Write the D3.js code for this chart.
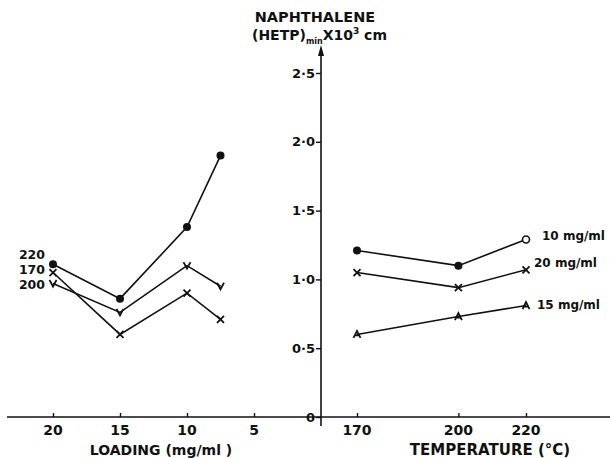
<!DOCTYPE html>
<html>
<head>
<meta charset="utf-8">
<script src="https://cdn.jsdelivr.net/npm/d3@7"></script>
<style>
  body { margin: 0; background: #fff; }
  text { font-family: "DejaVu Sans", sans-serif; font-weight: bold; fill: #111; }
</style>
</head>
<body>
<div id="chart"></div>
<script>
// left panel: HETP vs loading, one line per column temperature
const loading = [20, 15, 10, 7.5];
const hetp220 = [1.11, 0.86, 1.38, 1.90];
const hetp170 = [1.05, 0.60, 0.90, 0.71];
const hetp200 = [0.97, 0.76, 1.10, 0.95];
const loadingTicks = [20, 15, 10, 5];

// right panel: HETP vs temperature, one line per loading
const temps = [170, 200, 220];
const hetp10 = [1.21, 1.10, 1.29];
const hetp20 = [1.05, 0.94, 1.07];
const hetp15 = [0.60, 0.73, 0.81];
const tempTicks = [170, 200, 220];

const yTicks = [0, 0.5, 1.0, 1.5, 2.0, 2.5];

const width = 610, height = 458;
const svg = d3.select('#chart').append('svg')
    .attr('width', width)
    .attr('height', height);

const y = d3.scaleLinear().domain([0, 2.5]).range([417, 73]);
const xLoad = d3.scaleLinear().domain([20, 0]).range([53, 321]);
const xTemp = d3.scaleLinear().domain([170, 220]).range([357, 526]);
const axisX = xLoad(0);

// horizontal axes
svg.append('line')
    .attr('x1', 7).attr('x2', width)
    .attr('y1', y(0)).attr('y2', y(0))
    .attr('stroke', '#111').attr('stroke-width', 1.6);

const loadAxis = d3.axisTop(xLoad).tickValues(loadingTicks).tickSize(4).tickFormat('');
svg.append('g').attr('transform', `translate(0,${y(0)})`).call(loadAxis)
    .call(g => g.select('.domain').remove())
    .selectAll('line').attr('stroke', '#111').attr('stroke-width', 1.4);

const tempAxis = d3.axisTop(xTemp).tickValues(tempTicks).tickSize(4).tickFormat('');
svg.append('g').attr('transform', `translate(0,${y(0)})`).call(tempAxis)
    .call(g => g.select('.domain').remove())
    .selectAll('line').attr('stroke', '#111').attr('stroke-width', 1.4);

// tick labels below axis
svg.selectAll('.lt').data(loadingTicks).join('text')
    .attr('x', d => xLoad(d)).attr('y', 435)
    .attr('text-anchor', 'middle').style('font-size', '14px')
    .text(d => d);
svg.selectAll('.tt').data(tempTicks).join('text')
    .attr('x', d => xTemp(d)).attr('y', 435)
    .attr('text-anchor', 'middle').style('font-size', '14px')
    .text(d => d);

// vertical axis with arrow
svg.append('line')
    .attr('x1', axisX).attr('x2', axisX)
    .attr('y1', 426).attr('y2', 50)
    .attr('stroke', '#111').attr('stroke-width', 1.6);
svg.append('path')
    .attr('d', `M${axisX - 3},${56} L${axisX},${45} L${axisX + 3},${56} Z`)
    .attr('fill', '#111');

const yAxis = d3.axisLeft(y).tickValues(yTicks).tickSize(5)
    .tickFormat(d => d === 0 ? '0' : d3.format('.1f')(d).replace('.', '·'));
svg.append('g').attr('transform', `translate(${axisX},0)`).call(yAxis)
    .call(g => g.select('.domain').remove())
    .call(g => g.selectAll('line').attr('stroke', '#111').attr('stroke-width', 1.4))
    .call(g => g.selectAll('text')
        .style('font-size', '13px')
        .style('font-family', '"DejaVu Sans", sans-serif')
        .style('font-weight', 'bold')
        .attr('fill', '#111')
        .attr('x', -6));

// titles
svg.append('text').attr('x', 315).attr('y', 22)
    .attr('text-anchor', 'middle').style('font-size', '14.5px')
    .text('NAPHTHALENE');
const sub = svg.append('text').attr('x', 252).attr('y', 40).style('font-size', '14px');
sub.append('tspan').text('(HETP)');
sub.append('tspan').attr('dy', 4).style('font-size', '8px').text('min');
sub.append('tspan').attr('dy', -4).text('X10');
sub.append('tspan').attr('dy', -6).style('font-size', '9px').text('3');
sub.append('tspan').attr('dy', 6).text(' cm');

svg.append('text').attr('x', 161).attr('y', 455)
    .attr('text-anchor', 'middle').style('font-size', '14px')
    .text('LOADING (mg/ml )');
svg.append('text').attr('x', 490).attr('y', 455)
    .attr('text-anchor', 'middle').style('font-size', '15px')
    .text('TEMPERATURE (°C)');

// marker drawers
function drawMarker(g, kind, cx, cy) {
    if (kind === 'dot') {
        g.append('circle').attr('cx', cx).attr('cy', cy).attr('r', 4).attr('fill', '#111');
    } else if (kind === 'open') {
        g.append('circle').attr('cx', cx).attr('cy', cy).attr('r', 3.5)
            .attr('fill', '#fff').attr('stroke', '#111').attr('stroke-width', 1.6);
    } else if (kind === 'cross') {
        g.append('path').attr('d', `M${cx-3.5},${cy-3.5}L${cx+3.5},${cy+3.5}M${cx-3.5},${cy+3.5}L${cx+3.5},${cy-3.5}`)
            .attr('stroke', '#111').attr('stroke-width', 1.8);
    } else if (kind === 'vee') {
        g.append('path').attr('d', `M${cx-3.5},${cy-3.5}L${cx},${cy+3}L${cx+3.5},${cy-3.5}`)
            .attr('fill', 'none').attr('stroke', '#111').attr('stroke-width', 1.8);
    } else if (kind === 'tri') {
        g.append('path').attr('d', `M${cx-3.5},${cy+3.5}L${cx},${cy-3.5}L${cx+3.5},${cy+3.5}M${cx-2},${cy+1}L${cx+2},${cy+1}`)
            .attr('fill', 'none').attr('stroke', '#111').attr('stroke-width', 1.8);
    }
}

function drawSeries(xs, ys, xScale, markers) {
    const pts = xs.map((d, i) => [xScale(d), y(ys[i])]);
    svg.append('path')
        .attr('d', d3.line()(pts))
        .attr('fill', 'none').attr('stroke', '#111').attr('stroke-width', 1.6);
    const g = svg.append('g');
    pts.forEach((p, i) => drawMarker(g, markers[i], p[0], p[1]));
}

drawSeries(loading, hetp220, xLoad, ['dot', 'dot', 'dot', 'dot']);
drawSeries(loading, hetp170, xLoad, ['cross', 'cross', 'cross', 'cross']);
drawSeries(loading, hetp200, xLoad, ['vee', 'vee', 'vee', 'vee']);

drawSeries(temps, hetp10, xTemp, ['dot', 'dot', 'open']);
drawSeries(temps, hetp20, xTemp, ['cross', 'cross', 'cross']);
drawSeries(temps, hetp15, xTemp, ['tri', 'tri', 'tri']);

// series labels, left panel
const leftLabels = [['220', 259], ['170', 274], ['200', 289]];
svg.selectAll('.ll').data(leftLabels).join('text')
    .attr('x', 45).attr('y', d => d[1])
    .attr('text-anchor', 'end').style('font-size', '12.5px')
    .text(d => d[0]);

// series labels, right panel
const rightLabels = [['10 mg/ml', 542, 240], ['20 mg/ml', 534, 267], ['15 mg/ml', 537, 309]];
svg.selectAll('.rl').data(rightLabels).join('text')
    .attr('x', d => d[1]).attr('y', d => d[2])
    .style('font-size', '12px')
    .text(d => d[0]);
</script>
</body>
</html>
